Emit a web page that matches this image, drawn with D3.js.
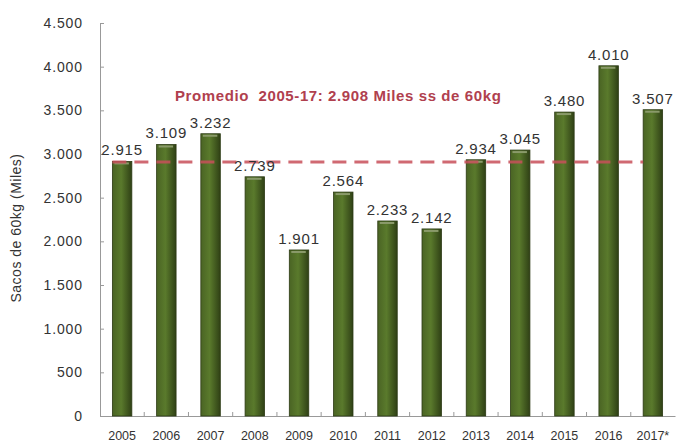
<!DOCTYPE html>
<html>
<head>
<meta charset="utf-8">
<script src="https://cdn.jsdelivr.net/npm/d3@7"></script>
<style>
  body { margin: 0; background: #fff; }
  text { font-family: "Liberation Sans", Arial, sans-serif; }
  .axis path, .axis line { stroke: #999; }
  .axis text { fill: #333; }
</style>
</head>
<body>
<div id="chart"></div>
<script>

//data
var years = ["2005", "2006", "2007", "2008", "2009", "2010", "2011", "2012", "2013", "2014", "2015", "2016", "2017*"];
var values = [2915, 3109, 3232, 2739, 1901, 2564, 2233, 2142, 2934, 3045, 3480, 4010, 3507];
var yTicks = [0, 500, 1000, 1500, 2000, 2500, 3000, 3500, 4000, 4500];
var average = 2908;
var avgLabel = "Promedio  2005-17: 2.908 Miles ss de 60kg";

//set margins
var margin = {top: 23, right: 4, bottom: 26, left: 100};
var width = 679 - margin.left - margin.right;
var height = 442 - margin.top - margin.bottom;

//spanish number format
var loc = d3.formatLocale({decimal: ",", thousands: ".", grouping: [3], currency: ["", ""]});
var fmt = loc.format(",d");

//scales
var xScale = d3.scaleBand()
                .domain(years)
                .range([0, width])
                .paddingInner(0.56)
                .paddingOuter(0.28);

var yScale = d3.scaleLinear()
                .domain([0, 4500])
                .range([height, 0]);

//svg
var svg = d3.select("#chart")
        .append("svg")
        .attr("width", 679)
        .attr("height", 442)
        .append("g")
        .attr("transform", "translate(" + margin.left + "," + margin.top + ")");

//gradient for bars
var grad = svg.append("defs").append("linearGradient")
    .attr("id", "barGrad")
    .attr("x1", "0%").attr("x2", "100%");
grad.append("stop").attr("offset", "0%").attr("stop-color", "#4a6424");
grad.append("stop").attr("offset", "45%").attr("stop-color", "#5a7a2c");
grad.append("stop").attr("offset", "100%").attr("stop-color", "#2f4015");

//y axis
svg.append("g")
    .attr("class", "axis")
    .call(d3.axisRight(yScale)
            .tickValues(yTicks)
            .tickSizeInner(4)
            .tickSizeOuter(0)
            .tickFormat(fmt))
    .selectAll("text")
    .attr("x", -17)
    .style("text-anchor", "end")
    .style("font-size", "14px")
    .style("letter-spacing", "0.9px");

//x axis
var xAxisG = svg.append("g")
    .attr("class", "axis")
    .attr("transform", "translate(0," + height + ")")
    .call(d3.axisBottom(xScale)
            .tickSizeInner(0)
            .tickSizeOuter(0)
            .tickPadding(15));

xAxisG.selectAll("text")
    .style("font-size", "12.5px");

//small ticks between categories
xAxisG.selectAll(".sep")
    .data(years.slice(1))
    .enter()
    .append("line")
    .attr("class", "sep")
    .attr("x1", function(d) {return xScale(d) - xScale.step() * xScale.paddingInner() / 2;})
    .attr("x2", function(d) {return xScale(d) - xScale.step() * xScale.paddingInner() / 2;})
    .attr("y1", 0)
    .attr("y2", -4);

//bars
svg.selectAll(".bar")
    .data(values)
    .enter()
    .append("rect")
    .attr("class", "bar")
    .attr("x", function(d, i) {return xScale(years[i]);})
    .attr("y", function(d) {return yScale(d);})
    .attr("width", xScale.bandwidth())
    .attr("height", function(d) {return height - yScale(d);})
    .style("fill", "url(#barGrad)")
    .style("stroke", "#2c3a14")
    .style("stroke-width", 0.8);

//bar tops highlight
svg.selectAll(".top")
    .data(values)
    .enter()
    .append("rect")
    .attr("x", function(d, i) {return xScale(years[i]) + 2;})
    .attr("y", function(d) {return yScale(d) + 1;})
    .attr("width", xScale.bandwidth() - 5)
    .attr("height", 2)
    .style("fill", "#8a9a6a");

//average line
svg.append("line")
    .attr("x1", xScale(years[0]))
    .attr("x2", xScale(years[years.length - 1]))
    .attr("y1", yScale(average))
    .attr("y2", yScale(average))
    .style("stroke", "#c8505a")
    .style("stroke-width", 3)
    .style("stroke-dasharray", "14,8")
    .style("opacity", 0.85);

//value labels
svg.selectAll(".val")
    .data(values)
    .enter()
    .append("text")
    .attr("class", "val")
    .attr("x", function(d, i) {return xScale(years[i]) + xScale.bandwidth() / 2;})
    .attr("y", function(d) {return yScale(d) - 6;})
    .style("text-anchor", "middle")
    .style("font-size", "15px")
    .style("letter-spacing", "0.8px")
    .style("fill", "#333")
    .text(function(d) {return fmt(d);});

//average label
svg.append("text")
    .attr("x", 75)
    .attr("y", 78)
    .style("font-size", "15px")
    .style("font-weight", "bold")
    .style("letter-spacing", "0.6px")
    .style("fill", "#b0404e")
    .attr("xml:space", "preserve")
    .text(avgLabel);

//y axis label
svg.append("text")
    .attr("transform", "rotate(-90)")
    .attr("x", -205)
    .attr("y", -79)
    .style("text-anchor", "middle")
    .style("font-size", "14px")
    .style("letter-spacing", "0.5px")
    .style("fill", "#333")
    .text("Sacos de 60kg (Miles)");

</script>
</body>
</html>
